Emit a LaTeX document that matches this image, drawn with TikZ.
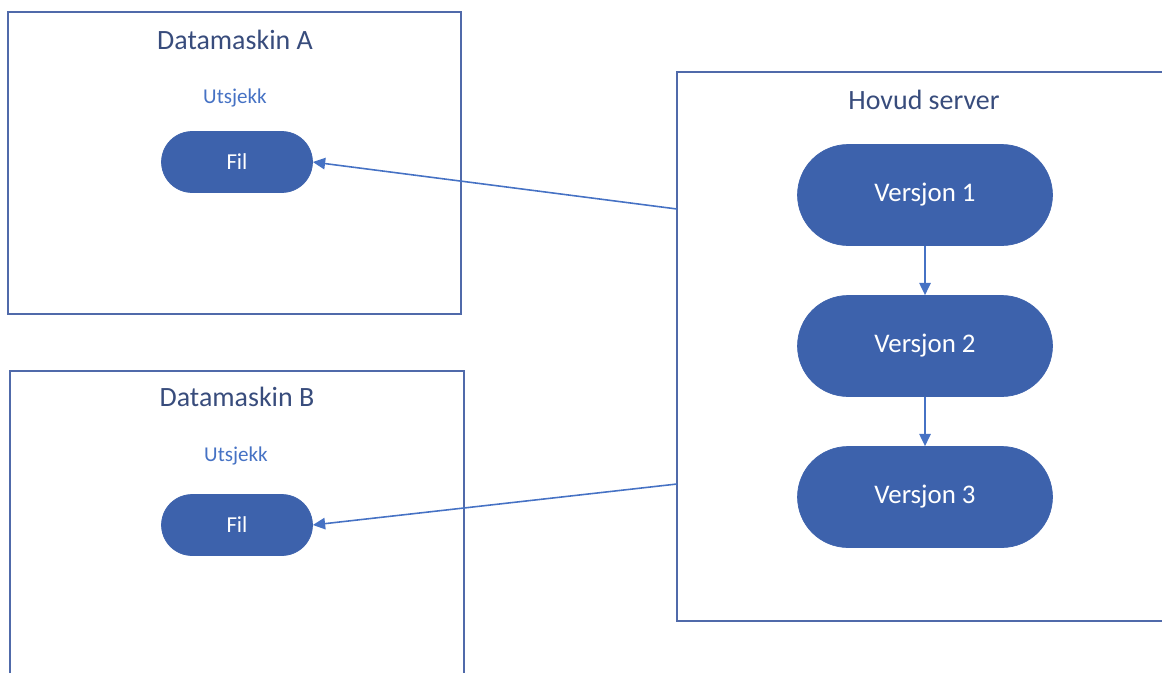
\documentclass[tikz,border=0pt]{standalone}
\usepackage{fontspec}
\setmainfont{Carlito}
\usetikzlibrary{positioning, calc, arrows.meta, shapes.misc}
\definecolor{fillblue}{RGB}{61,98,172}
\definecolor{lineblue}{RGB}{70,114,196}
\definecolor{framecol}{RGB}{80,106,170}
\definecolor{titlecol}{RGB}{56,76,124}
\tikzset{
    frame/.style={draw=framecol, line width=0.8pt},
    title/.style={text=titlecol, font=\fontsize{15.9}{18}\selectfont},
    note/.style={text=lineblue, font=\fontsize{12}{14}\selectfont},
    pill/.style={rounded rectangle, fill=fillblue, draw=fillblue, text=white, inner sep=0pt},
    filepill/.style={pill, minimum width=3.02cm, minimum height=1.22cm, font=\fontsize{13}{15}\selectfont},
    verpill/.style={pill, minimum width=5.1cm, minimum height=2.02cm, font=\fontsize{15.3}{18}\selectfont},
    link/.style={draw=lineblue, line width=0.9pt, -{Triangle[length=7pt, width=6.5pt]}}
}

\begin{document}
\begin{tikzpicture}[x=0.02cm, y=-0.02cm]
        \useasboundingbox (0,0) rectangle (1162,673);
        %Frames
        \draw[frame] (8,12) rectangle (461,314);
        \draw[frame] (10,673) |- (464,371) -- (464,673);
        \draw[frame] (1162,72) -| (677,621) -- (1162,621);
        %Titles
        \node[title] (titleA) at (235,40) {Datamaskin A};
        \node[title] (titleB) at (237,397) {Datamaskin B};
        \node[title] (titleS) at (924,100) {Hovud server};
        \node[note] (checkA) at (235,98) {Utsjekk};
        \node[note] (checkB) at (236,456) {Utsjekk};
        %Files
        \node[filepill] (filA) at (237,162) {Fil};
        \node[filepill] (filB) at (237,525) {Fil};
        %Versions
        \foreach \v [evaluate=\v as \y using 195+151*(\v-1)] in {1,2,3}{
            \node[verpill] (ver\v) at (925,\y) {Versjon \v};
        }
        %Extra coordinates on server frame
        \coordinate (srvA) at (677,209);
        \coordinate (srvB) at (677,484);
        %Paths
        \draw[link] (ver1) -- (ver2);
        \draw[link] (ver2) -- (ver3);
        \draw[link] (srvA) -- (filA.east);
        \draw[link] (srvB) -- (filB.east);
\end{tikzpicture}
\end{document}
